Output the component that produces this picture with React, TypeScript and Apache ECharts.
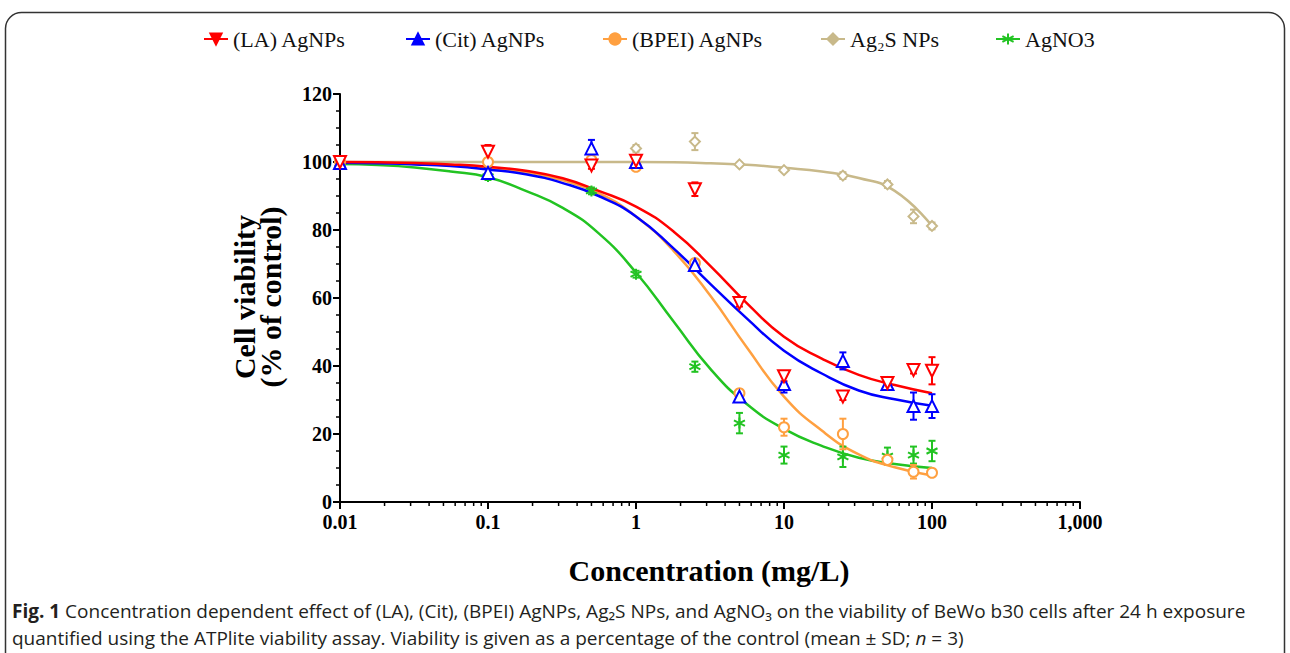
import React, { useEffect, useRef } from 'react';
import * as echarts from 'echarts';

// ---- data ----
const CONC = [0.01, 0.1, 0.5, 1, 2.5, 5, 10, 25, 50, 75, 100];

const LA_MEAN = [100, 103, 99, 100.4, 92, 58.5, 37, 31, 35, 38.8, 38.6];
const LA_SD = [0.5, 2, 1, 1.5, 2, 1, 1.5, 1, 1.5, 1, 4];
const CIT_MEAN = [99.7, 96.8, 104, 100, 69.7, 31, 34.7, 41.5, 34.7, 28.2, 28.2];
const CIT_SD = [0.5, 1.5, 2.5, 1.5, 1, 1.5, 2.5, 2.5, 1.5, 4, 3.5];
const BPEI_MEAN = [100, 100, 100.6, 98.6, 70.3, 32, 22, 20, 12.4, 8.9, 8.6];
const BPEI_SD = [0, 0.5, 1, 1, 1, 1, 2.5, 4.5, 1.5, 2, 1];
const AG2S_MEAN = [100, 100, 100, 104, 106, 99.3, 97.6, 96, 93.4, 84, 81.2];
const AG2S_SD = [0, 0, 0, 1, 2.5, 0.5, 0.5, 1, 1, 2, 1];
const AGNO3_MEAN = [99.5, 95.7, 91.5, 67, 39.8, 23.2, 13.8, 13.3, 13.5, 13.8, 15];
const AGNO3_SD = [0, 1, 1, 1, 1.5, 3, 2.5, 3, 2.5, 2.5, 3];

// fitted curves
const CURVE_X = [0.01, 0.018, 0.032, 0.056, 0.1, 0.18, 0.32, 0.56, 1, 1.8, 3.2, 5.6, 10, 18, 32, 56, 100];
const LA_CURVE = [100, 99.9, 99.7, 99.3, 98.6, 97.4, 95.2, 91.5, 86.9, 79.5, 69.3, 58.5, 48.6, 42.2, 37.4, 34.4, 32];
const CIT_CURVE = [99.8, 99.6, 99.3, 98.8, 97.8, 96.4, 93.8, 90, 84, 74.5, 64, 54, 44.5, 37.8, 32.8, 30.2, 28.3];
const BPEI_CURVE = [99.9, 99.8, 99.5, 99, 98.3, 97, 94.6, 90.8, 84, 73.8, 60.5, 45.5, 31, 21, 14, 10.2, 7.8];
const AG2S_CURVE = [100, 100, 100, 100, 100, 100, 100, 100, 100, 99.9, 99.6, 99.2, 98.3, 97.2, 95.3, 91.5, 81.2];
const AGNO3_CURVE = [99.4, 99.1, 98.4, 97.2, 95.5, 91.5, 86.5, 79, 67.5, 53, 39, 28.8, 21.5, 16.5, 13, 11.2, 10];

const NAMES = ['(LA) AgNPs', '(Cit) AgNPs', '(BPEI) AgNPs', 'Ag\u2082S NPs', 'AgNO3'];
const X_TICKS = [0.01, 0.1, 1, 10, 100, 1000];
const Y_TICKS = [0, 20, 40, 60, 80, 100, 120];

const RED = '#ff0000';
const BLUE = '#0000ff';
const ORANGE = '#ffa040';
const TAN = '#c8b98a';
const GREEN = '#22c322';

const SERIF = '"Liberation Serif", "Times New Roman", serif';
const SANS = '"Open Sans", Roboto, sans-serif';
const ASTERISK = 'path://M5,0L5,10M0.7,2.5L9.3,7.5M0.7,7.5L9.3,2.5';

export default function App() {
  const ref = useRef<HTMLDivElement>(null);

  useEffect(() => {
    const chart = echarts.init(ref.current!, null, { renderer: 'svg' });

    const groups = [
      { name: NAMES[3], color: TAN, mean: AG2S_MEAN, sd: AG2S_SD, curve: AG2S_CURVE, symbol: 'diamond', rotate: 0, size: 10, z: 2, legendX: 815 },
      { name: NAMES[4], color: GREEN, mean: AGNO3_MEAN, sd: AGNO3_SD, curve: AGNO3_CURVE, symbol: ASTERISK, rotate: 0, size: 11, z: 3, legendX: 990 },
      { name: NAMES[2], color: ORANGE, mean: BPEI_MEAN, sd: BPEI_SD, curve: BPEI_CURVE, symbol: 'circle', rotate: 0, size: 10, z: 4, legendX: 597 },
      { name: NAMES[1], color: BLUE, mean: CIT_MEAN, sd: CIT_SD, curve: CIT_CURVE, symbol: 'triangle', rotate: 0, size: 12, z: 5, legendX: 400 },
      { name: NAMES[0], color: RED, mean: LA_MEAN, sd: LA_SD, curve: LA_CURVE, symbol: 'triangle', rotate: 180, size: 12, z: 6, legendX: 198 },
    ];

    // minor ticks on the log axis (2..9 in each decade)
    const minorTicks: number[] = [];
    for (let i = 0; i < X_TICKS.length - 1; i++) {
      for (let k = 2; k <= 9; k++) minorTicks.push(X_TICKS[i] * k);
    }

    const series: any[] = [];
    groups.forEach((g) => {
      series.push({
        name: g.name,
        type: 'line',
        data: CURVE_X.map((x, i) => [x, g.curve[i]]),
        smooth: 0.5,
        showSymbol: false,
        symbol: g.symbol,
        symbolRotate: g.rotate,
        symbolSize: g.size,
        lineStyle: { color: g.color, width: 2.5 },
        itemStyle: { color: g.color, borderColor: g.color, borderWidth: 2 },
        z: g.z,
        silent: true,
      });
      series.push({
        name: g.name + ' err',
        type: 'custom',
        data: CONC.map((c, i) => [c, g.mean[i], g.sd[i]]),
        z: g.z + 10,
        silent: true,
        renderItem: (params: any, api: any) => {
          const x = api.value(0);
          const y = api.value(1);
          const e = api.value(2);
          if (!e) return null;
          const p1 = api.coord([x, y + e]);
          const p2 = api.coord([x, y - e]);
          const w = 3.5;
          const st = { stroke: g.color, lineWidth: 2 };
          return {
            type: 'group',
            children: [
              { type: 'line', shape: { x1: p1[0], y1: p1[1], x2: p2[0], y2: p2[1] }, style: st },
              { type: 'line', shape: { x1: p1[0] - w, y1: p1[1], x2: p1[0] + w, y2: p1[1] }, style: st },
              { type: 'line', shape: { x1: p2[0] - w, y1: p2[1], x2: p2[0] + w, y2: p2[1] }, style: st },
            ],
          };
        },
      });
      series.push({
        name: g.name + ' pts',
        type: 'scatter',
        data: CONC.map((c, i) => [c, g.mean[i]]),
        symbol: g.symbol,
        symbolRotate: g.rotate,
        symbolSize: g.size,
        itemStyle: {
          color: g.symbol === ASTERISK ? g.color : '#ffffff',
          borderColor: g.color,
          borderWidth: 2,
          opacity: 1,
        },
        z: g.z + 20,
        silent: true,
      });
    });

    series.push({
      name: 'minor ticks',
      type: 'custom',
      data: minorTicks.map((t) => [t, 0]),
      silent: true,
      z: 50,
      renderItem: (params: any, api: any) => {
        const p = api.coord([api.value(0), 0]);
        return {
          type: 'line',
          shape: { x1: p[0], y1: p[1], x2: p[0], y2: p[1] + 4 },
          style: { stroke: '#000', lineWidth: 1.5 },
        };
      },
    });

    const legends = groups.map((g) => ({
      data: [g.name],
      left: g.legendX,
      top: 23,
      itemWidth: 24,
      itemHeight: 14,
      selectedMode: false,
      textStyle: { fontFamily: SERIF, fontSize: 22, color: '#111', padding: [0, 0, 0, 0] },
    }));

    const option: any = {
      animation: false,
      backgroundColor: '#ffffff',
      grid: { left: 340, right: 210, top: 94, bottom: 151, containLabel: false },
      legend: legends,
      xAxis: {
        type: 'log',
        logBase: 10,
        min: X_TICKS[0],
        max: X_TICKS[X_TICKS.length - 1],
        axisLine: { show: true, onZero: false, lineStyle: { color: '#000', width: 2 } },
        axisTick: { show: true, length: 7, lineStyle: { color: '#000', width: 2 } },
        splitLine: { show: false },
        axisLabel: {
          fontFamily: SERIF,
          fontWeight: 'bold',
          fontSize: 20,
          color: '#000',
          margin: 10,
          formatter: (v: number) => {
            const r = Math.round(v * 1000) / 1000;
            return r >= 1000 ? r.toLocaleString('en-US') : String(r);
          },
        },
      },
      yAxis: {
        type: 'value',
        min: Y_TICKS[0],
        max: Y_TICKS[Y_TICKS.length - 1],
        interval: 20,
        axisLine: { show: true, lineStyle: { color: '#000', width: 2 } },
        axisTick: { show: true, length: 7, lineStyle: { color: '#000', width: 2 } },
        minorTick: { show: true, splitNumber: 4, length: 4, lineStyle: { color: '#000', width: 1.5 } },
        splitLine: { show: false },
        axisLabel: { fontFamily: SERIF, fontWeight: 'bold', fontSize: 20, color: '#000', margin: 8 },
      },
      graphic: [
        {
          type: 'rect',
          shape: { x: 5.5, y: 12.5, width: 1279, height: 720, r: 16 },
          style: { fill: 'none', stroke: '#333', lineWidth: 1.5 },
          silent: true,
        },
        {
          type: 'text',
          x: 257,
          y: 297,
          rotation: Math.PI / 2,
          style: {
            text: 'Cell viability\n(% of control)',
            textAlign: 'center',
            textVerticalAlign: 'middle',
            fontFamily: SERIF,
            fontWeight: 'bold',
            fontSize: 30,
            lineHeight: 26,
            fill: '#000',
          },
        },
        {
          type: 'text',
          x: 709,
          y: 570,
          style: {
            text: 'Concentration (mg/L)',
            textAlign: 'center',
            textVerticalAlign: 'middle',
            fontFamily: SERIF,
            fontWeight: 'bold',
            fontSize: 30,
            fill: '#000',
          },
        },
        {
          type: 'text',
          x: 12,
          y: 597,
          style: {
            text:
              '{b|Fig. 1} Concentration dependent effect of (LA), (Cit), (BPEI) AgNPs, Ag\u2082S NPs, and AgNO\u2083 on the viability of BeWo b30 cells after 24 h exposure\nquantified using the ATPlite viability assay. Viability is given as a percentage of the control (mean \u00b1 SD; {i|n} = 3)',
            fontFamily: SANS,
            fontSize: 19,
            lineHeight: 27,
            fill: '#231f20',
            rich: {
              b: { fontFamily: SANS, fontSize: 19, fontWeight: 'bold', fill: '#231f20', lineHeight: 27 },
              i: { fontFamily: SANS, fontSize: 19, fontStyle: 'italic', fill: '#231f20', lineHeight: 27 },
            },
          },
        },
      ],
      series,
    };

    chart.setOption(option);
    return () => chart.dispose();
  }, []);

  return (
    <div
      ref={ref}
      style={{ position: 'fixed', left: 0, top: 0, width: 1290, height: 653, background: '#fff' }}
    />
  );
}
